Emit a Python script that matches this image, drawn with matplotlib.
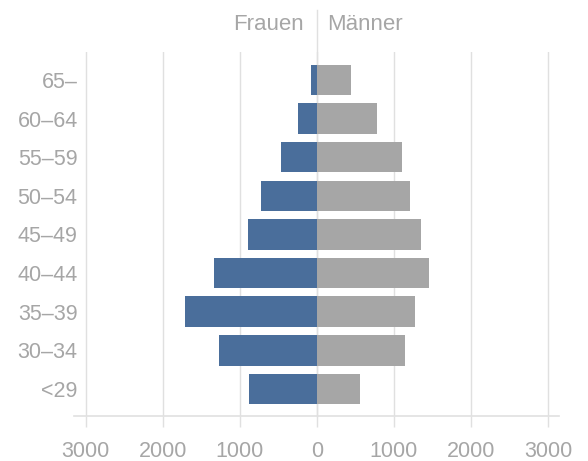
import matplotlib.pyplot as plt

# age groups, bottom to top
groups = ['<29', '30–34', '35–39', '40–44', '45–49', '50–54', '55–59', '60–64', '65–']
frauen = [885, 1265, 1715, 1330, 890, 730, 470, 250, 70]
maenner = [555, 1150, 1275, 1450, 1355, 1210, 1110, 780, 445]
ticks = [-3000, -2000, -1000, 0, 1000, 2000, 3000]
tick_labels = ['3000', '2000', '1000', '0', '1000', '2000', '3000']

plt.rcParams['font.family'] = ['Liberation Sans', 'DejaVu Sans']
grey_txt = '#a6a6a6'
grid_c = '#e0e0e0'

fig = plt.figure(figsize=(5.88, 4.61), dpi=100)
ax = fig.add_axes([0.125, 0.0976, 0.826, 0.7894])

y = range(len(groups))
ax.barh(y, [-v for v in frauen], height=0.79, color='#4a6e9b', zorder=2)
ax.barh(y, maenner, height=0.79, color='#a6a6a6', zorder=2)

ax.set_xlim(-3158, 3145)
ax.set_ylim(-0.7, len(groups) - 1 + 0.72)

ax.set_xticks(ticks)
ax.set_xticklabels(tick_labels)
ax.set_yticks(list(y))
ax.set_yticklabels(groups)

ax.grid(axis='x', color=grid_c, linewidth=1, zorder=0)
for s in ax.spines.values():
    s.set_visible(False)
ax.axhline(-0.7, color=grid_c, linewidth=1.2, zorder=1, clip_on=False)
# zero line runs up between the two header words
ax.axvline(0, ymin=0, ymax=1 + 42 / 364, color=grid_c, linewidth=1, zorder=1, clip_on=False)

ax.tick_params(axis='x', length=8, color=grid_c, width=1, pad=10, labelsize=15.5, labelcolor=grey_txt)
ax.tick_params(axis='y', length=0, pad=-3, labelsize=15.5, labelcolor=grey_txt)

ax.text(-170, 1.077, 'Frauen', transform=ax.get_xaxis_transform(), ha='right', va='center',
        fontsize=16, color=grey_txt)
ax.text(130, 1.077, 'Männer', transform=ax.get_xaxis_transform(), ha='left', va='center',
        fontsize=16, color=grey_txt)

plt.savefig('out.png', dpi=100)
